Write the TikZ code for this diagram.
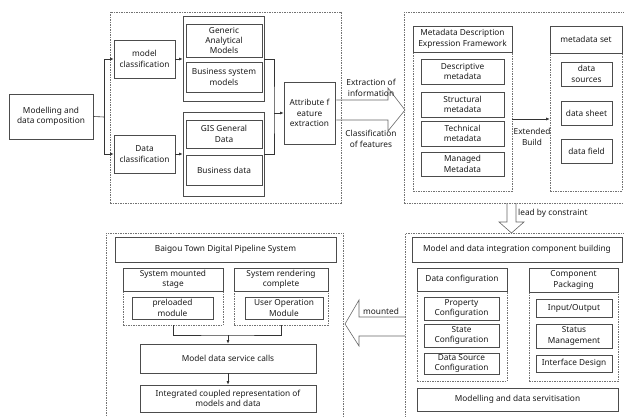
\documentclass[tikz,border=0pt]{standalone}
\usepackage{fontspec}
\setmainfont{Noto Sans}
\usetikzlibrary{arrows.meta,calc}
\newcommand\mybox[7]{\node[#1, minimum width={(#5-#3)*1pt}, minimum height={(#6-#4)*1pt}] (#2) at ({(#3+#5)/2},{(#4+#6)/2}) {#7};}
\tikzset{
  txt/.style={align=center, font=\fontsize{8.3}{10.4}\selectfont, text=black!90, inner sep=1pt},
  box/.style={txt, draw=black!70, line width=0.7pt},
  dbox/.style={draw=black!55, line width=0.6pt, dash pattern=on 1.5pt off 1pt},
  arr/.style={-{Latex[length=3.5pt,width=3pt]}, draw=black!80, line width=0.6pt},
  conn/.style={draw=black!80, line width=0.6pt},
  big/.style={draw=black!60, line width=0.6pt}
}
\begin{document}
\begin{tikzpicture}[x=1pt,y=-1pt]
\useasboundingbox (0,0) rectangle (624,417);
\clip (0,0) rectangle (624,417);
% ---------- top left group ----------
\mybox{dbox}{boxA}{110}{12}{341}{203}{}
\mybox{box}{comp}{9}{94}{93}{139}{Modelling and\\data composition}
\mybox{box}{mc}{114}{40}{175}{78}{model\\classification}
\mybox{box}{dc}{114}{135}{175}{173}{Data\\classification}
\mybox{box}{g1}{183}{16}{264}{101}{}
\mybox{box}{gam}{186}{24}{262}{57}{Generic\\Analytical\\Models}
\mybox{box}{bsm}{186}{62}{262}{92}{Business system\\models}
\mybox{box}{g2}{183}{112}{264}{196}{}
\mybox{box}{gis}{186}{120}{262}{148}{GIS General\\Data}
\mybox{box}{bd}{186}{155}{262}{185}{Business data}
\mybox{box}{attr}{284}{82}{335}{144}{Attribute f\\eature\\extraction}
\coordinate (sp) at (104,117);
\draw[conn] (comp.east) -- (sp);
\draw[arr] (sp) |- (mc.west);
\draw[arr] (sp) |- (dc.west);
\draw[arr] (mc.east) -- (mc.east -| g1.west);
\draw[arr] (dc.east) -- (dc.east -| g2.west);
\coordinate (br) at (274,113);
\draw[conn] (mc.east -| g1.east) -| (br) |- (dc.east -| g2.east);
\draw[arr] (br) -- (attr.west);
% big right arrow
\draw[big] ($(attr.east)+(1,-13)$) -- (388,100) -- (388,88) -- (405,110) -- (388,131) -- (388,120) -- ($(attr.east)+(1,7)$);
\node[txt] (lab1) at (371,88) {Extraction of\\information};
\node[txt] (lab2) at (371,139) {Classification\\of features};
% ---------- top right group ----------
\mybox{dbox}{boxB}{404}{12}{640}{203}{}
\mybox{dbox}{mdf}{413}{26}{512}{191}{}
\mybox{box}{mdfh}{413}{26}{512}{52}{Metadata Description\\Expression Framework}
\mybox{box}{desc}{421}{59}{504}{84}{Descriptive\\metadata}
\mybox{box}{struc}{421}{92}{504}{117}{Structural\\metadata}
\mybox{box}{tech}{421}{121}{504}{146}{Technical\\metadata}
\mybox{box}{manag}{421}{152}{504}{176}{Managed\\Metadata}
\mybox{dbox}{ms}{550}{26}{622}{191}{}
\mybox{box}{msh}{550}{26}{622}{53}{metadata set}
\mybox{box}{dsrc}{561}{62}{612}{86}{data\\sources}
\mybox{box}{dsheet}{561}{101}{612}{125}{data sheet}
\mybox{box}{dfield}{561}{139}{612}{163}{data field}
\coordinate (eb) at (512,119);
\draw[arr] (eb) -- (eb -| ms.west);
\node[txt] (lab3) at (532,137) {Extended\\Build};
% down arrow
\draw[big] (507,203) -- (507,222) -- (499,222) -- (511.5,233) -- (524,222) -- (516,222) -- (516,203);
\node[txt, anchor=west] (lab4) at (517,213) {lead by constraint};
% ---------- bottom right group ----------
\mybox{dbox}{boxC}{405}{233}{640}{430}{}
\mybox{box}{mdi}{412}{237}{622}{262}{Model and data integration component building}
\mybox{dbox}{dconf}{417}{268}{507}{381}{}
\mybox{box}{dconfh}{417}{268}{507}{291}{Data configuration}
\mybox{box}{prop}{424}{297}{499}{320}{Property\\Configuration}
\mybox{box}{state}{424}{324}{499}{347}{State\\Configuration}
\mybox{box}{dsconf}{424}{353}{499}{374}{Data Source\\Configuration}
\mybox{dbox}{cpack}{529}{268}{618}{381}{}
\mybox{box}{cpackh}{529}{268}{618}{292}{Component\\Packaging}
\mybox{box}{io}{536}{299}{612}{317}{Input/Output}
\mybox{box}{status}{536}{324}{612}{348}{Status\\Management}
\mybox{box}{iface}{536}{355}{612}{372}{Interface Design}
\mybox{box}{serv}{417}{388}{618}{411}{Modelling and data servitisation}
% mounted arrow
\draw[big] (405,317) -- (359,317) -- (359,300) -- (345,324) -- (359,346) -- (359,336) -- (405,336);
\node[txt] (lab5) at (381,311) {mounted};
% ---------- bottom left group ----------
\mybox{dbox}{boxD}{106}{233}{343}{430}{}
\mybox{box}{baig}{115}{237}{336}{262}{Baigou Town Digital Pipeline System}
\mybox{dbox}{sms}{123}{268}{223}{325}{}
\mybox{box}{smsh}{123}{268}{223}{291}{System mounted\\stage}
\mybox{box}{pre}{132}{297}{213}{319}{preloaded\\module}
\mybox{dbox}{src}{234}{268}{328}{325}{}
\mybox{box}{srch}{234}{268}{328}{291}{System rendering\\complete}
\mybox{box}{uom}{245}{297}{323}{319}{User Operation\\Module}
\mybox{box}{mdsc}{140}{344}{316}{373}{Model data service calls}
\mybox{box}{integ}{140}{385}{316}{412}{Integrated coupled representation of\\models and data}
\coordinate (jn) at (228,335);
\draw[conn] (sms.south) |- (jn) -| (src.south);
\draw[arr] (jn) -- (mdsc.north);
\draw[arr] (mdsc.south) -- (integ.north);
\end{tikzpicture}
\end{document}
